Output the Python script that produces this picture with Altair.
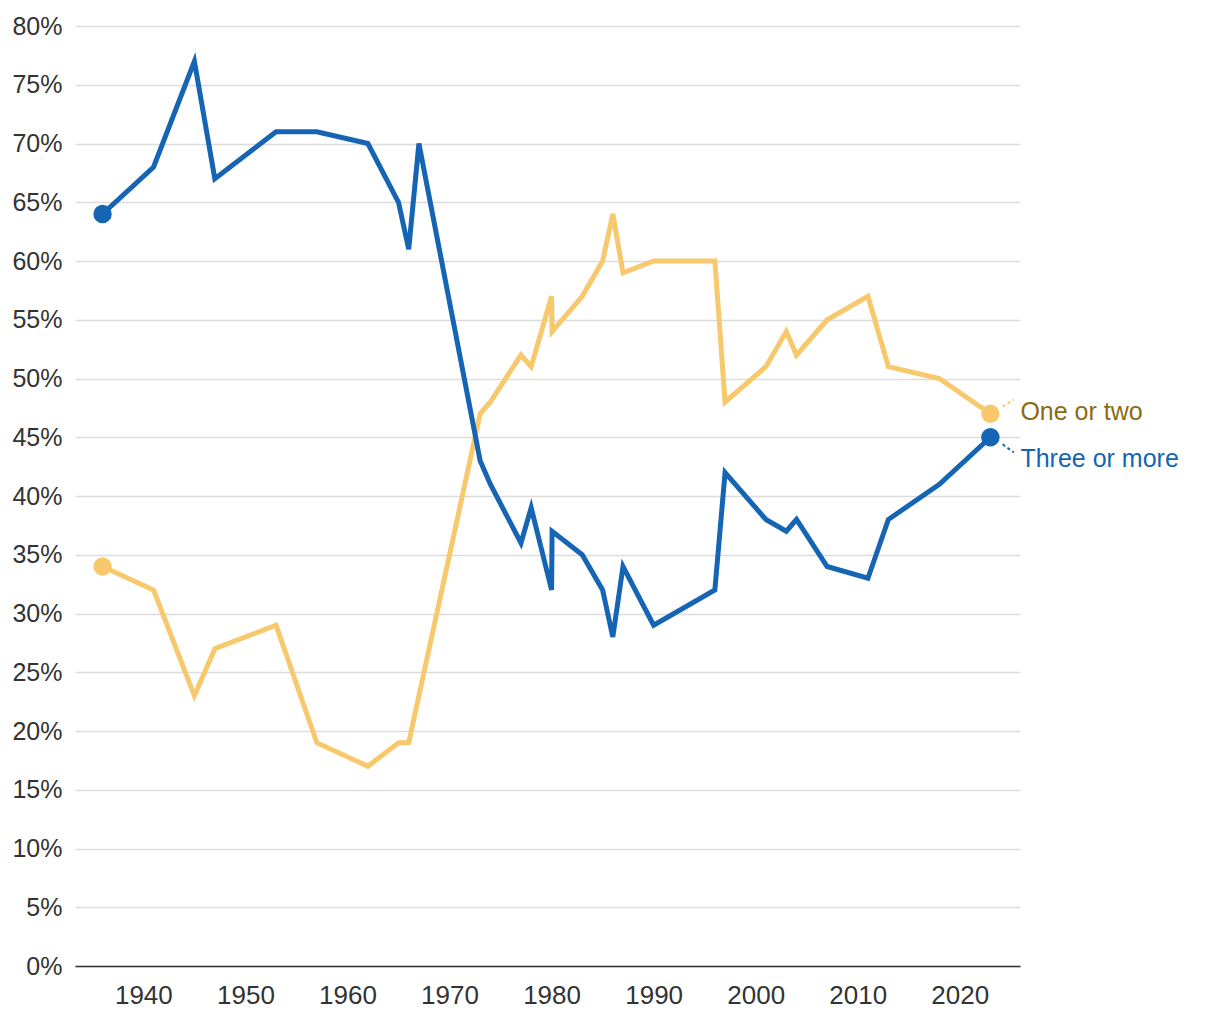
import altair as alt
import pandas as pd

years = [1936, 1941, 1945, 1947, 1953, 1957, 1962, 1965, 1966, 1967, 1973, 1974,
         1977, 1978, 1980.0, 1980.05, 1983, 1985, 1986, 1987, 1990, 1996, 1997,
         2001, 2003, 2004, 2007, 2011, 2013, 2018, 2023]
one_or_two = [34, 32, 23, 27, 29, 19, 17, 19, 19, 23, 47, 48,
              52, 51, 57, 54, 57, 60, 64, 59, 60, 60, 48,
              51, 54, 52, 55, 57, 51, 50, 47]
three_or_more = [64, 68, 77, 67, 71, 71, 70, 65, 61, 70, 43, 41,
                 36, 39, 32, 37, 35, 32, 28, 34, 29, 32, 42,
                 38, 37, 38, 34, 33, 38, 41, 45]
series_names = ["One or two", "Three or more"]
line_colors = ["#f8c96c", "#1565b4"]
label_colors = ["#8c6a14", "#1565b4"]
y_ticks = list(range(0, 81, 5))
x_ticks = list(range(1940, 2021, 10))

rows = []
for name, vals in zip(series_names, [one_or_two, three_or_more]):
    for i, (yr, v) in enumerate(zip(years, vals)):
        rows.append({"year": yr, "value": v, "series": name,
                     "end": i == 0 or i == len(years) - 1})
df = pd.DataFrame(rows)

last_year = years[-1]
labels = pd.DataFrame({
    "year": [last_year, last_year],
    "value": [one_or_two[-1], three_or_more[-1]],
    "series": series_names,
})
conn = pd.DataFrame({
    "x": [last_year + 1.2, last_year + 1.2],
    "x2": [last_year + 2.3, last_year + 2.3],
    "y": [one_or_two[-1] + 0.6, three_or_more[-1] - 0.6],
    "y2": [one_or_two[-1] + 1.2, three_or_more[-1] - 1.3],
    "series": series_names,
})

FONT = "Liberation Sans"
xscale = alt.Scale(domain=[1933.3, 2025.9], nice=False, zero=False)
yscale = alt.Scale(domain=[0, 80], nice=False)
color = alt.Color("series:N", scale=alt.Scale(domain=series_names, range=line_colors), legend=None)

base = alt.Chart(df)

lines = base.mark_line(strokeWidth=5, strokeJoin="miter", clip=False).encode(
    x=alt.X("year:Q", scale=xscale,
            axis=alt.Axis(values=x_ticks, format="d", title=None, grid=False, ticks=False,
                          domain=True, domainColor="#333333", domainWidth=1.5,
                          labelFont=FONT, labelFontSize=26, labelColor="#333333",
                          labelPadding=16, labelFlush=False)),
    y=alt.Y("value:Q", scale=yscale,
            axis=alt.Axis(values=y_ticks, labelExpr="datum.value + '%'", title=None,
                          grid=True, gridColor="#dcdcdc", gridWidth=1.5, ticks=False,
                          domain=False, labelFont=FONT, labelFontSize=25,
                          labelColor="#333333", labelPadding=13)),
    color=color,
    detail="series:N",
)

points = base.transform_filter("datum.end").mark_circle(size=340, opacity=1).encode(
    x="year:Q", y="value:Q", color=color,
)

connectors = alt.Chart(conn).mark_rule(strokeWidth=2, strokeDash=[3, 3]).encode(
    x="x:Q", x2="x2:Q", y="y:Q", y2="y2:Q", color=color,
)

text_layers = []
for name, lc, dy in zip(series_names, label_colors, [-2, 22]):
    text_layers.append(
        alt.Chart(labels[labels.series == name]).mark_text(
            align="left", baseline="middle", dx=30, dy=dy, font=FONT,
            fontSize=25, color=lc,
        ).encode(x="year:Q", y="value:Q", text="series:N")
    )

chart = alt.layer(lines, connectors, points, *text_layers).properties(
    width=945, height=940,
    autosize=alt.AutoSizeParams(type="none"),
    padding={"left": 67, "top": 18, "right": 185, "bottom": 45},
).configure_view(stroke=None)

chart.save("out.html", embed_options={"renderer": "svg", "actions": False})
